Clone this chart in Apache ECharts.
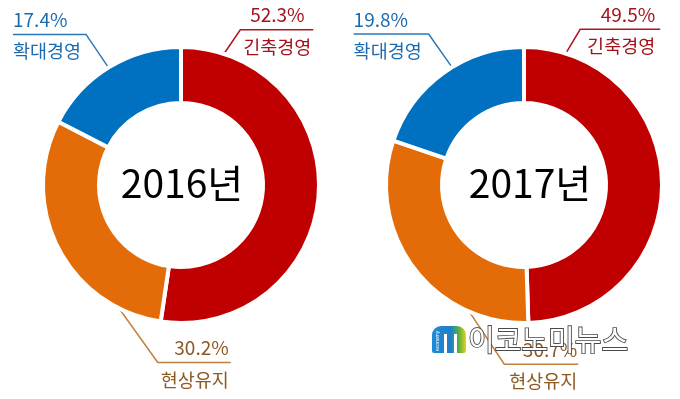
<!DOCTYPE html>
<html><head><meta charset="utf-8">
<script src="https://cdn.jsdelivr.net/npm/echarts@6/dist/echarts.min.js"></script>
<style>html,body{margin:0;padding:0;background:#fff}#c{width:680px;height:399px}</style>
</head><body><div id="c"></div>
<script>
const categories = ['긴축경영', '현상유지', '확대경영'];
const years = ['2016년', '2017년'];
const values2016 = [52.3, 30.2, 17.4];
const values2017 = [49.5, 30.7, 19.8];

const sliceColors = ['#C00000', '#E36C09', '#0070C0'];
const textColors = ['#A5111B', '#8E5A24', '#1B6BB0'];
const lineColors = ['#B0141E', '#C0803F', '#2A78BC'];

const FONT = '"Noto Sans CJK KR", "Noto Sans", sans-serif';
const centers = [[181, 185], [524, 185]];
const R_OUT = 138, R_IN = 82;

// label leader geometry per chart / per slice: attach angle (deg clockwise from top),
// elbow offset from attach point, horizontal segment length (signed), text anchor
const leaders = [
  [
    { ang: 18, ex: 17, ey: -25, len: 73, align: 'center', tx: 37 },
    { ang: 207.5, ex: 40, ey: 56, len: 73, align: 'right', tx: 71 },
    { ang: -31.7, ex: -23, ey: -34, len: -73, align: 'left', tx: -73 }
  ],
  [
    { ang: 17.5, ex: 15, ey: -25, len: 80, align: 'right', tx: 75 },
    { ang: 204, ex: 36, ey: 54, len: 74, align: 'right', tx: 73 },
    { ang: -31.4, ex: -24, ey: -34, len: -75, align: 'left', tx: -75 }
  ]
];

function makeSeries(si, vals) {
  const c = centers[si];
  return {
    type: 'pie',
    center: c,
    radius: [R_IN, R_OUT],
    startAngle: 90,
    clockwise: true,
    avoidLabelOverlap: false,
    animation: false,
    itemStyle: { borderColor: '#fff', borderWidth: 4 },
    label: {
      show: true,
      position: 'outside',
      fontFamily: FONT,
      formatter: p => '{p|' + p.value.toFixed(1) + '%}\n{n|' + p.name + '}'
    },
    labelLine: { show: true, lineStyle: { width: 1.5 } },
    labelLayout: function (params) {
      const L = leaders[params.seriesIndex][params.dataIndex];
      const a = L.ang * Math.PI / 180;
      const x1 = c[0] + (R_OUT - 1) * Math.sin(a);
      const y1 = c[1] - (R_OUT - 1) * Math.cos(a);
      const x2 = x1 + L.ex, y2 = y1 + L.ey;
      const x3 = x2 + L.len;
      return {
        x: x2 + L.tx,
        y: y2 - 29,
        align: L.align,
        verticalAlign: 'top',
        labelLinePoints: [[x1, y1], [x2, y2], [x3, y2]]
      };
    },
    data: vals.map((v, i) => ({
      name: categories[i],
      value: v,
      itemStyle: { color: sliceColors[i] },
      labelLine: { lineStyle: { color: lineColors[i], width: 1.5 } },
      label: {
        color: textColors[i],
        rich: {
          p: { color: textColors[i], fontSize: 19, lineHeight: 29, fontFamily: FONT },
          n: { color: textColors[i], fontSize: 18.5, lineHeight: 34, fontFamily: FONT }
        }
      }
    }))
  };
}

const chart = echarts.init(document.getElementById('c'), null, { renderer: 'canvas' });
chart.setOption({
  backgroundColor: '#ffffff',
  series: [makeSeries(0, values2016), makeSeries(1, values2017)],
  graphic: [
    { type: 'text', x: centers[0][0] + 1, y: centers[0][1] - 2,
      style: { text: years[0], font: '39px ' + FONT, fill: '#000', align: 'center', verticalAlign: 'middle' } },
    { type: 'text', x: centers[1][0] + 6, y: centers[1][1] - 2,
      style: { text: years[1], font: '39px ' + FONT, fill: '#000', align: 'center', verticalAlign: 'middle' } },
    // watermark
    { type: 'group', x: 432, y: 326, z: 100, children: [
      { type: 'rect', shape: { x: 0, y: 0, width: 34, height: 27, r: [9, 9, 2, 2] },
        style: { fill: new echarts.graphic.LinearGradient(0, 0, 1, 0, [
          { offset: 0, color: '#1E8BD8' }, { offset: 0.55, color: '#1E7FC8' }, { offset: 0.8, color: '#5DB33A' }, { offset: 1, color: '#E8D21C' }]) } },
      { type: 'rect', shape: { x: 12, y: 8, width: 3, height: 19 }, style: { fill: '#fff' } },
      { type: 'rect', shape: { x: 22, y: 8, width: 3, height: 19 }, style: { fill: '#fff' } },
      { type: 'text', x: 6, y: 25, rotation: Math.PI / 2,
        style: { text: 'economy', font: '5px sans-serif', fill: '#fff', align: 'left', verticalAlign: 'middle' } }
    ] },
    { type: 'text', x: 468, y: 340, z: 100,
      style: { text: '이코노미뉴스', font: '29px ' + FONT, fill: '#ffffff', stroke: '#4a4a4a', lineWidth: 1.8,
        align: 'left', verticalAlign: 'middle' } }
  ]
});
</script>
</body></html>
